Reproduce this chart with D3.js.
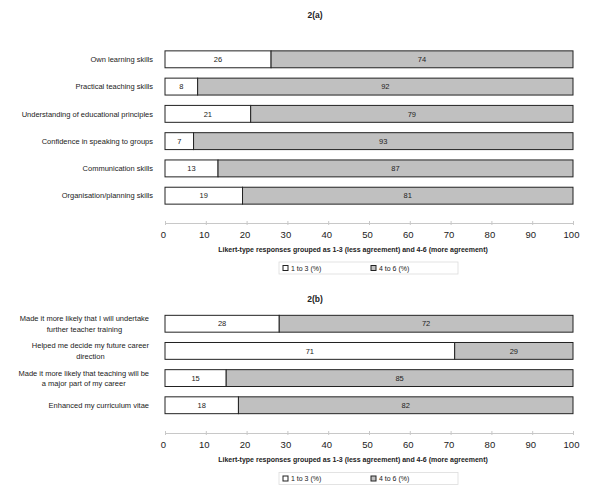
<!DOCTYPE html>
<html>
<head>
<meta charset="utf-8">
<script src="https://cdn.jsdelivr.net/npm/d3@7"></script>
<style>
  body { margin: 0; background: #fff; }
  svg text { font-family: "Liberation Sans", Arial, sans-serif; fill: #222; }
</style>
</head>
<body>
<figure id="chart" style="margin:0"></figure>
<script>
// panel 2(a)
const catsA = [
  ["Own learning skills"],
  ["Practical teaching skills"],
  ["Understanding of educational principles"],
  ["Confidence in speaking to groups"],
  ["Communication skills"],
  ["Organisation/planning skills"]
];
const lowA = [26, 8, 21, 7, 13, 19];
const highA = [74, 92, 79, 93, 87, 81];

// panel 2(b)
const catsB = [
  ["Made it more likely that I will undertake", "further teacher training"],
  ["Helped me decide my future career", "direction"],
  ["Made it more likely that teaching will be", "a major part of my career"],
  ["Enhanced my curriculum vitae"]
];
const lowB = [28, 71, 15, 18];
const highB = [72, 29, 85, 82];

const xTicks = [0, 10, 20, 30, 40, 50, 60, 70, 80, 90, 100];
const axisTitle = "Likert-type responses grouped as 1-3 (less agreement) and 4-6 (more agreement)";
const legendLabels = ["1 to 3 (%)", "4 to 6 (%)"];
const fills = ["#ffffff", "#c0c0c0"];

const width = 600, height = 498;
const svg = d3.select("figure#chart").append("svg")
  .attr("width", width).attr("height", height);

const x = d3.scaleLinear().domain([0, 100]).range([165, 573]);

function drawPanel(title, cats, low, high, top) {
  const g = svg.append("g");

  g.append("text")
    .attr("x", 315).attr("y", top.title + 3)
    .attr("text-anchor", "middle")
    .style("font-size", "8.5px").style("font-weight", "bold")
    .text(title);

  const y = d3.scaleBand()
    .domain(d3.range(cats.length))
    .range([top.band0, top.band1])
    .padding(0.38);

  const rows = cats.map((c, i) => ({ cat: c, low: low[i], high: high[i], i: i }));

  // category labels, block right aligned, lines centred inside the block
  rows.forEach(d => {
    const t = g.append("text")
      .style("font-size", "7.5px");
    const cy = y(d.i) + y.bandwidth() / 2;
    const lh = 10.5;
    d.cat.forEach((line, k) => {
      t.append("tspan").text(line)
        .attr("y", cy + 2.7 + (k - (d.cat.length - 1) / 2) * lh);
    });
    const tsp = t.selectAll("tspan").nodes();
    const maxW = d3.max(tsp, n => n.getComputedTextLength());
    const right = top.labelRight;
    t.attr("text-anchor", "middle");
    t.selectAll("tspan").attr("x", right - maxW / 2);
  });

  // bars
  const bars = g.append("g");
  bars.selectAll("rect.low").data(rows).enter().append("rect")
    .attr("x", d => x(0)).attr("y", d => y(d.i))
    .attr("width", d => x(d.low) - x(0)).attr("height", y.bandwidth())
    .attr("fill", fills[0]).attr("stroke", "#222").attr("stroke-width", 1);
  bars.selectAll("rect.high").data(rows).enter().append("rect")
    .attr("x", d => x(d.low)).attr("y", d => y(d.i))
    .attr("width", d => x(d.low + d.high) - x(d.low)).attr("height", y.bandwidth())
    .attr("fill", fills[1]).attr("stroke", "#222").attr("stroke-width", 1);

  // value labels
  bars.selectAll("text.low").data(rows).enter().append("text")
    .attr("x", d => x(d.low / 2)).attr("y", d => y(d.i) + y.bandwidth() / 2 + 2.7)
    .attr("text-anchor", "middle").style("font-size", "7.5px")
    .text(d => d.low);
  bars.selectAll("text.high").data(rows).enter().append("text")
    .attr("x", d => x(d.low + d.high / 2)).attr("y", d => y(d.i) + y.bandwidth() / 2 + 2.7)
    .attr("text-anchor", "middle").style("font-size", "7.5px")
    .text(d => d.high);

  // x axis
  const ax = g.append("g")
    .attr("transform", "translate(0," + top.axis + ")")
    .call(d3.axisBottom(x).tickValues(xTicks).tickSize(3).tickSizeOuter(0));
  ax.select(".domain").attr("stroke", "#c8c8c8");
  ax.selectAll(".tick line").attr("stroke", "#c8c8c8").attr("y1", -2).attr("y2", 2);
  ax.selectAll(".tick text")
    .attr("y", 8).attr("dx", -2)
    .style("font-family", "'Liberation Sans', Arial, sans-serif")
    .style("font-size", "9.5px").attr("fill", "#222");

  g.append("text")
    .attr("x", 353).attr("y", top.axis + 29)
    .attr("text-anchor", "middle")
    .style("font-size", "7px").style("font-weight", "bold")
    .text(axisTitle);

  // legend
  const lg = g.append("g").attr("transform", "translate(279," + top.legend + ")");
  lg.append("rect").attr("width", 179).attr("height", 12)
    .attr("fill", "#fff").attr("stroke", "#dcdcdc").attr("stroke-width", 0.8);
  const lx = [4, 92];
  legendLabels.forEach((lab, k) => {
    lg.append("rect").attr("x", lx[k]).attr("y", 3.5).attr("width", 5).attr("height", 5)
      .attr("fill", fills[k]).attr("stroke", "#222").attr("stroke-width", 1);
    lg.append("text").attr("x", lx[k] + 8).attr("y", 8.6)
      .style("font-size", "7px").text(lab);
  });
}

drawPanel("2(a)", catsA, lowA, highA,
  { title: 15, band0: 40.5, band1: 214.5, labelRight: 153, axis: 223, legend: 262 });
drawPanel("2(b)", catsB, lowB, highB,
  { title: 299, band0: 305, band1: 424, labelRight: 149, axis: 433, legend: 472.5 });
</script>
</body>
</html>
